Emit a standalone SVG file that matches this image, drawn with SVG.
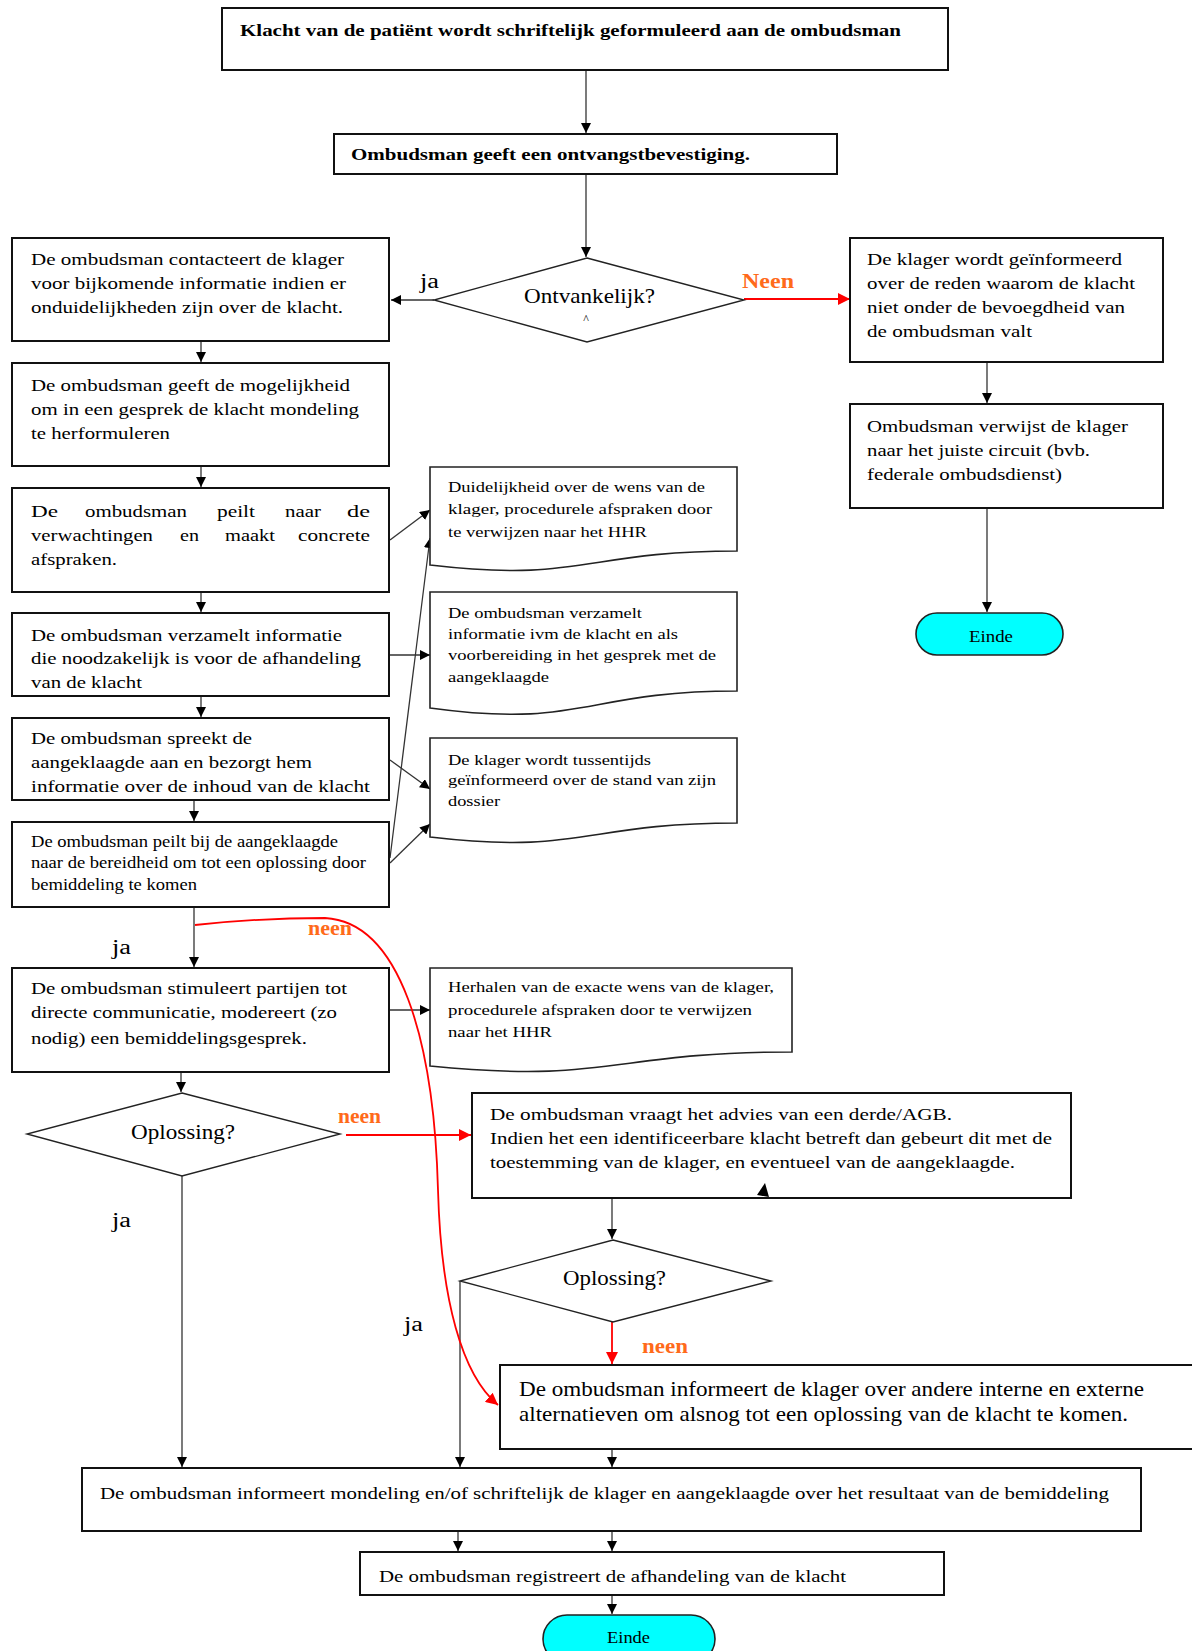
<svg xmlns="http://www.w3.org/2000/svg" width="1192" height="1651" viewBox="0 0 1192 1651">
<style>
text{font-family:"Liberation Serif","Times New Roman",serif;fill:#000}
.box{fill:#fff;stroke:#111;stroke-width:2}
.doc{fill:#fff;stroke:#222;stroke-width:1.6}
.dia{fill:#fff;stroke:#222;stroke-width:1.4}
.term{fill:#00ffff;stroke:#222;stroke-width:1.6}
.t17{font-size:17px}
.t16{font-size:16px}
.t15{font-size:15.5px}
.t21{font-size:21px}
.b{font-weight:bold}
.lbl{font-size:20px}
.neen{font-size:20px;fill:#ff6a1a;font-weight:bold}
.c{fill:none;stroke:#333;stroke-width:1.3}
.r{fill:none;stroke:#ff0000;stroke-width:1.8}
</style>
<defs>
<marker id="ah" viewBox="0 0 10 10" refX="10" refY="5" markerWidth="10" markerHeight="10" markerUnits="userSpaceOnUse" orient="auto"><path d="M0,0 L10,5 L0,10 z" fill="#000"/></marker>
<marker id="ahr" viewBox="0 0 10 10" refX="10" refY="5" markerWidth="12" markerHeight="12" markerUnits="userSpaceOnUse" orient="auto"><path d="M0,0 L10,5 L0,10 z" fill="#ff0000"/></marker>
</defs>
<rect width="1192" height="1651" fill="#fff"/>

<g id="connectors">
<path class="c" d="M586,70 V133" marker-end="url(#ah)"/>
<path class="c" d="M586,174 V257" marker-end="url(#ah)"/>
<path class="c" d="M434,300 H391" marker-end="url(#ah)"/>
<path class="r" d="M744,299 H850" marker-end="url(#ahr)"/>
<path class="c" d="M987,362 V403" marker-end="url(#ah)"/>
<path class="c" d="M987,508 V612" marker-end="url(#ah)"/>
<path class="c" d="M201,341 V362" marker-end="url(#ah)"/>
<path class="c" d="M201,466 V487" marker-end="url(#ah)"/>
<path class="c" d="M201,592 V612" marker-end="url(#ah)"/>
<path class="c" d="M201,696 V717" marker-end="url(#ah)"/>
<path class="c" d="M194,800 V821" marker-end="url(#ah)"/>
<path class="c" d="M194,907 V967" marker-end="url(#ah)"/>
<path class="c" d="M390,540 L430,510" marker-end="url(#ah)"/>
<path class="c" d="M390,858 L430,538" marker-end="url(#ah)"/>
<path class="c" d="M389,655 H430" marker-end="url(#ah)"/>
<path class="c" d="M390,760 L430,789" marker-end="url(#ah)"/>
<path class="c" d="M390,863 L430,824" marker-end="url(#ah)"/>
<path class="c" d="M389,1010 H430" marker-end="url(#ah)"/>
<path class="c" d="M181,1072 V1092" marker-end="url(#ah)"/>
<path class="r" d="M346,1135 H471" marker-end="url(#ahr)"/>
<path class="c" d="M182,1176 V1467" marker-end="url(#ah)"/>
<path class="c" d="M612,1198 V1239" marker-end="url(#ah)"/>
<path class="c" d="M460,1281 V1467" marker-end="url(#ah)"/>
<path class="r" d="M612,1322 V1364" marker-end="url(#ahr)"/>
<path class="c" d="M612,1449 V1467" marker-end="url(#ah)"/>
<path class="c" d="M458,1531 V1551" marker-end="url(#ah)"/>
<path class="c" d="M612,1531 V1551" marker-end="url(#ah)"/>
<path class="c" d="M612,1595 V1614" marker-end="url(#ah)"/>
<path class="r" d="M195,925 Q260,918 325,918 C400,922 434,1040 438,1190 C441,1300 462,1375 498,1405" marker-end="url(#ahr)"/>
<text x="420" y="288" class="lbl" textLength="19" lengthAdjust="spacingAndGlyphs">ja</text>
<text x="742" y="288" class="neen" textLength="52" lengthAdjust="spacingAndGlyphs">Neen</text>
<text x="112" y="954" class="lbl" textLength="19" lengthAdjust="spacingAndGlyphs">ja</text>
<text x="308" y="935" class="neen" textLength="44" lengthAdjust="spacingAndGlyphs">neen</text>
<text x="338" y="1123" class="neen" textLength="43" lengthAdjust="spacingAndGlyphs">neen</text>
<text x="112" y="1227" class="lbl" textLength="19" lengthAdjust="spacingAndGlyphs">ja</text>
<text x="404" y="1331" class="lbl" textLength="19" lengthAdjust="spacingAndGlyphs">ja</text>
<text x="642" y="1353" class="neen" textLength="46" lengthAdjust="spacingAndGlyphs">neen</text>
</g>

<g id="n-klacht">
<rect class="box" x="222" y="8" width="726" height="62"/>
<text x="240" y="36" class="t17 b" textLength="661" lengthAdjust="spacingAndGlyphs">Klacht van de patiënt wordt schriftelijk geformuleerd aan de ombudsman</text>
</g>

<g id="n-ontvangst">
<rect class="box" x="334" y="134" width="503" height="40"/>
<text x="351" y="160" class="t17 b" textLength="399" lengthAdjust="spacingAndGlyphs">Ombudsman geeft een ontvangstbevestiging.</text>
</g>

<g id="n-ontvankelijk">
<polygon class="dia" points="587,258 744,300 587,342 434,300"/>
<text x="524" y="303" class="t21" textLength="131" lengthAdjust="spacingAndGlyphs">Ontvankelijk?</text>
<text x="586" y="323" font-size="12" text-anchor="middle">^</text>
</g>

<g id="n-contacteert">
<rect class="box" x="12" y="238" width="377" height="103"/>
<text class="t17" x="31" y="265" textLength="313" lengthAdjust="spacingAndGlyphs">De ombudsman contacteert de klager</text>
<text class="t17" x="31" y="289" textLength="315" lengthAdjust="spacingAndGlyphs">voor bijkomende informatie indien er</text>
<text class="t17" x="31" y="313" textLength="312" lengthAdjust="spacingAndGlyphs">onduidelijkheden zijn over de klacht.</text>
</g>

<g id="n-geinformeerd">
<rect class="box" x="850" y="238" width="313" height="124"/>
<text class="t17" x="867" y="265" textLength="255" lengthAdjust="spacingAndGlyphs">De klager wordt geïnformeerd</text>
<text class="t17" x="867" y="289" textLength="268" lengthAdjust="spacingAndGlyphs">over de reden waarom de klacht</text>
<text class="t17" x="867" y="313" textLength="258" lengthAdjust="spacingAndGlyphs">niet onder de bevoegdheid van</text>
<text class="t17" x="867" y="337" textLength="165" lengthAdjust="spacingAndGlyphs">de ombudsman valt</text>
</g>

<g id="n-verwijst">
<rect class="box" x="850" y="404" width="313" height="104"/>
<text class="t17" x="867" y="432" textLength="261" lengthAdjust="spacingAndGlyphs">Ombudsman verwijst de klager</text>
<text class="t17" x="867" y="456" textLength="223" lengthAdjust="spacingAndGlyphs">naar het juiste circuit (bvb.</text>
<text class="t17" x="867" y="480" textLength="195" lengthAdjust="spacingAndGlyphs">federale ombudsdienst)</text>
</g>

<g id="n-einde1">
<rect class="term" x="916" y="613" width="147" height="42" rx="21"/>
<text class="t17" x="969" y="642" textLength="44" lengthAdjust="spacingAndGlyphs">Einde</text>
</g>

<g id="n-mogelijkheid">
<rect class="box" x="12" y="363" width="377" height="103"/>
<text class="t17" x="31" y="391" textLength="319" lengthAdjust="spacingAndGlyphs">De ombudsman geeft de mogelijkheid</text>
<text class="t17" x="31" y="415" textLength="328" lengthAdjust="spacingAndGlyphs">om in een gesprek de klacht mondeling</text>
<text class="t17" x="31" y="439" textLength="139" lengthAdjust="spacingAndGlyphs">te herformuleren</text>
</g>

<g id="n-peilt">
<rect class="box" x="12" y="488" width="377" height="104"/>
<text class="t17" x="31" y="517" textLength="27" lengthAdjust="spacingAndGlyphs">De</text>
<text class="t17" x="85" y="517" textLength="102" lengthAdjust="spacingAndGlyphs">ombudsman</text>
<text class="t17" x="217" y="517" textLength="38" lengthAdjust="spacingAndGlyphs">peilt</text>
<text class="t17" x="285" y="517" textLength="36" lengthAdjust="spacingAndGlyphs">naar</text>
<text class="t17" x="347" y="517" textLength="23" lengthAdjust="spacingAndGlyphs">de</text>
<text class="t17" x="31" y="541" textLength="122" lengthAdjust="spacingAndGlyphs">verwachtingen</text>
<text class="t17" x="180" y="541" textLength="19" lengthAdjust="spacingAndGlyphs">en</text>
<text class="t17" x="225" y="541" textLength="50" lengthAdjust="spacingAndGlyphs">maakt</text>
<text class="t17" x="298" y="541" textLength="72" lengthAdjust="spacingAndGlyphs">concrete</text>
<text class="t17" x="31" y="565" textLength="86" lengthAdjust="spacingAndGlyphs">afspraken.</text>
</g>

<g id="n-verzamelt">
<rect class="box" x="12" y="613" width="377" height="83"/>
<text class="t17" x="31" y="641" textLength="311" lengthAdjust="spacingAndGlyphs">De ombudsman verzamelt informatie</text>
<text class="t17" x="31" y="664" textLength="330" lengthAdjust="spacingAndGlyphs">die noodzakelijk is voor de afhandeling</text>
<text class="t17" x="31" y="688" textLength="111" lengthAdjust="spacingAndGlyphs">van de klacht</text>
</g>

<g id="n-spreekt">
<rect class="box" x="12" y="718" width="377" height="82"/>
<text class="t17" x="31" y="744" textLength="221" lengthAdjust="spacingAndGlyphs">De ombudsman spreekt de</text>
<text class="t17" x="31" y="768" textLength="281" lengthAdjust="spacingAndGlyphs">aangeklaagde aan en bezorgt hem</text>
<text class="t17" x="31" y="792" textLength="339" lengthAdjust="spacingAndGlyphs">informatie over de inhoud van de  klacht</text>
</g>

<g id="n-bereidheid">
<rect class="box" x="12" y="822" width="377" height="85"/>
<text class="t16" x="31" y="847" textLength="307" lengthAdjust="spacingAndGlyphs">De ombudsman peilt bij de aangeklaagde</text>
<text class="t16" x="31" y="868" textLength="335" lengthAdjust="spacingAndGlyphs">naar de bereidheid om tot een oplossing door</text>
<text class="t16" x="31" y="890" textLength="166" lengthAdjust="spacingAndGlyphs">bemiddeling te komen</text>
</g>

<g id="n-doc-duidelijkheid">
<path class="doc" d="M430,467 H737 V551 C583.5,551 583.5,583 430,565 Z"/>
<text class="t15" x="448" y="492" textLength="257" lengthAdjust="spacingAndGlyphs">Duidelijkheid over de wens van de</text>
<text class="t15" x="448" y="514" textLength="264" lengthAdjust="spacingAndGlyphs">klager, procedurele  afspraken door</text>
<text class="t15" x="448" y="537" textLength="199" lengthAdjust="spacingAndGlyphs">te verwijzen naar het HHR</text>
</g>

<g id="n-doc-verzamelt">
<path class="doc" d="M430,592 H737 V691 C583.5,691 583.5,729 430,708 Z"/>
<text class="t15" x="448" y="618" textLength="194" lengthAdjust="spacingAndGlyphs">De ombudsman verzamelt</text>
<text class="t15" x="448" y="639" textLength="230" lengthAdjust="spacingAndGlyphs">informatie ivm de klacht en als</text>
<text class="t15" x="448" y="660" textLength="268" lengthAdjust="spacingAndGlyphs">voorbereiding in het gesprek met de</text>
<text class="t15" x="448" y="682" textLength="101" lengthAdjust="spacingAndGlyphs">aangeklaagde</text>
</g>

<g id="n-doc-tussentijds">
<path class="doc" d="M430,738 H737 V823 C583.5,823 583.5,855 430,837 Z"/>
<text class="t15" x="448" y="765" textLength="203" lengthAdjust="spacingAndGlyphs">De klager wordt tussentijds</text>
<text class="t15" x="448" y="785" textLength="268" lengthAdjust="spacingAndGlyphs">geïnformeerd over de stand van zijn</text>
<text class="t15" x="448" y="806" textLength="52" lengthAdjust="spacingAndGlyphs">dossier</text>
</g>

<g id="n-stimuleert">
<rect class="box" x="12" y="968" width="377" height="104"/>
<text class="t17" x="31" y="994" textLength="316" lengthAdjust="spacingAndGlyphs">De ombudsman stimuleert partijen tot</text>
<text class="t17" x="31" y="1018" textLength="306" lengthAdjust="spacingAndGlyphs">directe communicatie, modereert (zo</text>
<text class="t17" x="31" y="1044" textLength="276" lengthAdjust="spacingAndGlyphs">nodig) een bemiddelingsgesprek.</text>
</g>

<g id="n-doc-herhalen">
<path class="doc" d="M430,968 H792 V1052 C611,1052 611,1084 430,1066 Z"/>
<text class="t15" x="448" y="992" textLength="326" lengthAdjust="spacingAndGlyphs">Herhalen van de exacte wens van de klager,</text>
<text class="t15" x="448" y="1015" textLength="304" lengthAdjust="spacingAndGlyphs">procedurele afspraken door  te verwijzen</text>
<text class="t15" x="448" y="1037" textLength="104" lengthAdjust="spacingAndGlyphs">naar het HHR</text>
</g>

<g id="n-oplossing1">
<polygon class="dia" points="182,1093 340,1134 182,1176 27,1134"/>
<text class="t21" x="131" y="1139" textLength="104" lengthAdjust="spacingAndGlyphs">Oplossing?</text>
</g>

<g id="n-advies">
<rect class="box" x="472" y="1093" width="599" height="105"/>
<text class="t17" x="490" y="1120" textLength="462" lengthAdjust="spacingAndGlyphs">De ombudsman vraagt het advies van een derde/AGB.</text>
<text class="t17" x="490" y="1144" textLength="562" lengthAdjust="spacingAndGlyphs">Indien het een identificeerbare klacht betreft dan gebeurt dit met de</text>
<text class="t17" x="490" y="1168" textLength="525" lengthAdjust="spacingAndGlyphs">toestemming van de klager, en eventueel van de aangeklaagde.</text>
<polygon points="757,1195 765,1183 769,1197" fill="#000"/>
</g>

<g id="n-oplossing2">
<polygon class="dia" points="613,1240 771,1281 613,1322 460,1281"/>
<text class="t21" x="563" y="1285" textLength="103" lengthAdjust="spacingAndGlyphs">Oplossing?</text>
</g>

<g id="n-alternatieven">
<rect class="box" x="500" y="1365" width="710" height="84"/>
<text class="t21" x="519" y="1396" textLength="625" lengthAdjust="spacingAndGlyphs">De ombudsman informeert de klager over andere interne en externe</text>
<text class="t21" x="519" y="1421" textLength="609" lengthAdjust="spacingAndGlyphs">alternatieven om alsnog tot een oplossing van de klacht te komen.</text>
</g>

<g id="n-resultaat">
<rect class="box" x="82" y="1468" width="1059" height="63"/>
<text class="t17" x="100" y="1499" textLength="1009" lengthAdjust="spacingAndGlyphs">De ombudsman informeert mondeling en/of schriftelijk de klager en aangeklaagde over het resultaat van de bemiddeling</text>
</g>

<g id="n-registreert">
<rect class="box" x="360" y="1552" width="584" height="43"/>
<text class="t17" x="379" y="1582" textLength="467" lengthAdjust="spacingAndGlyphs">De ombudsman registreert de afhandeling van de klacht</text>
</g>

<g id="n-einde2">
<rect class="term" x="543" y="1615" width="172" height="48" rx="24"/>
<text class="t17" x="607" y="1643" textLength="43" lengthAdjust="spacingAndGlyphs">Einde</text>
</g>
</svg>
